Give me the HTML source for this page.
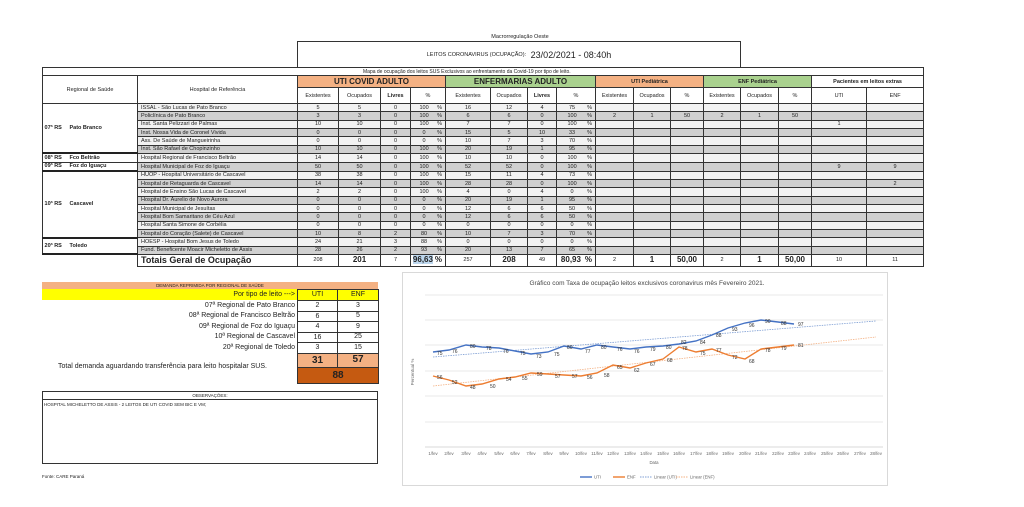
<!DOCTYPE html>
<html><head><meta charset="utf-8">
<style>
body{margin:0;width:1024px;height:507px;background:#fff;position:relative;overflow:hidden;font-family:"Liberation Sans",sans-serif;color:#222}
.a{position:absolute}
table{border-collapse:collapse;table-layout:fixed;position:absolute}
td{border:1px solid #333;padding:0;font-size:5.5px;line-height:6px;text-align:center;overflow:hidden;white-space:nowrap}
.m td{height:7.33px}
.L{background:#f2f2f2}.G{background:#d0d0d0}
.h{text-align:left;padding-left:3px}
.reg{background:#fff;text-align:left;font-weight:bold}
.or{background:#f4b183}.gr{background:#a9d18e}
.p span{float:right;margin-right:3px}
.sub td{height:15px}
</style></head><body>
<div class="a" style="left:0;width:1040px;top:34px;text-align:center;font-size:5.5px">Macrorregulação Oeste</div>
<div class="a" style="left:297px;top:41px;width:442px;height:25px;border:1px solid #333;border-bottom:none"></div>
<div class="a" style="left:297px;width:444px;top:50px;text-align:center;font-size:5.5px"><span style="vertical-align:middle">LEITOS CORONAVIRUS (OCUPAÇÃO):</span> &nbsp; <span style="font-size:9px;vertical-align:middle">23/02/2021 - 08:40h</span></div>

<table style="left:42px;top:67px;width:881px">
<colgroup><col style="width:95px"><col style="width:160px"><col style="width:41px"><col style="width:42px"><col style="width:30px"><col style="width:35px"><col style="width:45px"><col style="width:37px"><col style="width:29px"><col style="width:39px"><col style="width:38px"><col style="width:37px"><col style="width:33px"><col style="width:37px"><col style="width:38px"><col style="width:33px"><col style="width:55px"><col style="width:57px"></colgroup>
<tr><td colspan="18" style="height:7px;text-align:left;padding-left:320px;font-size:5px;border-bottom:1px solid #333">Mapa de ocupação dos leitos SUS Exclusivos ao enfrentamento da Covid-19 por tipo de leito.</td></tr>
<tr><td rowspan="2" style="font-size:5.5px">Regional de Saúde</td><td rowspan="2" style="font-size:5.5px">Hospital de Referência</td>
<td colspan="4" class="or" style="height:11px;font-size:8px;font-weight:bold">UTI COVID ADULTO</td>
<td colspan="4" class="gr" style="font-size:8px;font-weight:bold">ENFERMARIAS ADULTO</td>
<td colspan="3" class="or" style="font-weight:bold">UTI Pediátrica</td>
<td colspan="3" class="gr" style="font-weight:bold">ENF Pediátrica</td>
<td colspan="2" style="font-weight:bold">Pacientes em leitos extras</td></tr>
<tr class="sub"><td>Existentes</td><td>Ocupados</td><td><b>Livres</b></td><td>%</td><td>Existentes</td><td>Ocupados</td><td><b>Livres</b></td><td>%</td><td>Existentes</td><td>Ocupados</td><td>%</td><td>Existentes</td><td>Ocupados</td><td>%</td><td>UTI</td><td>ENF</td></tr>

<tr class="m L"><td rowspan="6" class="reg" style="border-bottom:2px solid #222">&nbsp;07ª RS &nbsp;&nbsp;&nbsp; Pato Branco</td><td class="h">ISSAL - São Lucas de Pato Branco</td><td>5</td><td>5</td><td>0</td><td class="p">100<span>%</span></td><td>16</td><td>12</td><td>4</td><td class="p">75<span>%</span></td><td></td><td></td><td></td><td></td><td></td><td></td><td></td><td></td></tr>
<tr class="m G"><td class="h">Policlínica de Pato Branco</td><td>3</td><td>3</td><td>0</td><td class="p">100<span>%</span></td><td>6</td><td>6</td><td>0</td><td class="p">100<span>%</span></td><td>2</td><td>1</td><td>50</td><td>2</td><td>1</td><td>50</td><td></td><td></td></tr>
<tr class="m L"><td class="h">Inst. Santa Pelizzari de Palmas</td><td>10</td><td>10</td><td>0</td><td class="p">100<span>%</span></td><td>7</td><td>7</td><td>0</td><td class="p">100<span>%</span></td><td></td><td></td><td></td><td></td><td></td><td></td><td>1</td><td></td></tr>
<tr class="m G"><td class="h">Inst. Nossa Vida de Coronel Vivida</td><td>0</td><td>0</td><td>0</td><td class="p">0<span>%</span></td><td>15</td><td>5</td><td>10</td><td class="p">33<span>%</span></td><td></td><td></td><td></td><td></td><td></td><td></td><td></td><td></td></tr>
<tr class="m L"><td class="h">Ass. De Saúde de Mangueirinha</td><td>0</td><td>0</td><td>0</td><td class="p">0<span>%</span></td><td>10</td><td>7</td><td>3</td><td class="p">70<span>%</span></td><td></td><td></td><td></td><td></td><td></td><td></td><td></td><td></td></tr>
<tr class="m G"><td class="h">Inst. São Rafael de Chopinzinho</td><td>10</td><td>10</td><td>0</td><td class="p">100<span>%</span></td><td>20</td><td>19</td><td>1</td><td class="p">95<span>%</span></td><td></td><td></td><td></td><td></td><td></td><td></td><td></td><td></td></tr>
<tr class="m L"><td class="reg">&nbsp;08ª RS &nbsp;&nbsp;&nbsp; Fco Beltrão</td><td class="h">Hospital Regional de Francisco Beltrão</td><td>14</td><td>14</td><td>0</td><td class="p">100<span>%</span></td><td>10</td><td>10</td><td>0</td><td class="p">100<span>%</span></td><td></td><td></td><td></td><td></td><td></td><td></td><td></td><td></td></tr>
<tr class="m G"><td class="reg" style="border-bottom:2px solid #222">&nbsp;09ª RS &nbsp;&nbsp;&nbsp; Foz do Iguaçu</td><td class="h">Hospital Municipal de Foz do Iguaçu</td><td>50</td><td>50</td><td>0</td><td class="p">100<span>%</span></td><td>52</td><td>52</td><td>0</td><td class="p">100<span>%</span></td><td></td><td></td><td></td><td></td><td></td><td></td><td>9</td><td>9</td></tr>
<tr class="m L"><td rowspan="8" class="reg" style="border-bottom:2px solid #222">&nbsp;10ª RS &nbsp;&nbsp;&nbsp; Cascavel</td><td class="h">HUOP - Hospital Universitário de Cascavel</td><td>38</td><td>38</td><td>0</td><td class="p">100<span>%</span></td><td>15</td><td>11</td><td>4</td><td class="p">73<span>%</span></td><td></td><td></td><td></td><td></td><td></td><td></td><td></td><td></td></tr>
<tr class="m G"><td class="h">Hospital de Retaguarda de Cascavel</td><td>14</td><td>14</td><td>0</td><td class="p">100<span>%</span></td><td>28</td><td>28</td><td>0</td><td class="p">100<span>%</span></td><td></td><td></td><td></td><td></td><td></td><td></td><td></td><td>2</td></tr>
<tr class="m L"><td class="h">Hospital de Ensino São Lucas de Cascavel</td><td>2</td><td>2</td><td>0</td><td class="p">100<span>%</span></td><td>4</td><td>0</td><td>4</td><td class="p">0<span>%</span></td><td></td><td></td><td></td><td></td><td></td><td></td><td></td><td></td></tr>
<tr class="m G"><td class="h">Hospital Dr. Aurelio de Novo Aurora</td><td>0</td><td>0</td><td>0</td><td class="p">0<span>%</span></td><td>20</td><td>19</td><td>1</td><td class="p">95<span>%</span></td><td></td><td></td><td></td><td></td><td></td><td></td><td></td><td></td></tr>
<tr class="m L"><td class="h">Hospital Municipal de Jesuítas</td><td>0</td><td>0</td><td>0</td><td class="p">0<span>%</span></td><td>12</td><td>6</td><td>6</td><td class="p">50<span>%</span></td><td></td><td></td><td></td><td></td><td></td><td></td><td></td><td></td></tr>
<tr class="m G"><td class="h">Hospital Bom Samaritano de Céu Azul</td><td>0</td><td>0</td><td>0</td><td class="p">0<span>%</span></td><td>12</td><td>6</td><td>6</td><td class="p">50<span>%</span></td><td></td><td></td><td></td><td></td><td></td><td></td><td></td><td></td></tr>
<tr class="m L"><td class="h">Hospital Santa Simone de Corbélia</td><td>0</td><td>0</td><td>0</td><td class="p">0<span>%</span></td><td>0</td><td>0</td><td>0</td><td class="p">0<span>%</span></td><td></td><td></td><td></td><td></td><td></td><td></td><td></td><td></td></tr>
<tr class="m G"><td class="h">Hospital do Coração (Salete) de Cascavel</td><td>10</td><td>8</td><td>2</td><td class="p">80<span>%</span></td><td>10</td><td>7</td><td>3</td><td class="p">70<span>%</span></td><td></td><td></td><td></td><td></td><td></td><td></td><td></td><td></td></tr>
<tr class="m L"><td rowspan="2" class="reg" style="border-bottom:2px solid #222">&nbsp;20ª RS &nbsp;&nbsp;&nbsp; Toledo</td><td class="h">HOESP - Hospital Bom Jesus de Toledo</td><td>24</td><td>21</td><td>3</td><td class="p">88<span>%</span></td><td>0</td><td>0</td><td>0</td><td class="p">0<span>%</span></td><td></td><td></td><td></td><td></td><td></td><td></td><td></td><td></td></tr>
<tr class="m G"><td class="h">Fund. Beneficente Moacir Micheletto de Assis</td><td>28</td><td>26</td><td>2</td><td class="p">93<span>%</span></td><td>20</td><td>13</td><td>7</td><td class="p">65<span>%</span></td><td></td><td></td><td></td><td></td><td></td><td></td><td></td><td></td></tr>
<tr style="height:12px"><td style="border:none;border-top:2px solid #222"></td><td class="h" style="font-size:9px;font-weight:bold;line-height:11px">Totais Geral de Ocupação</td><td>208</td><td style="font-size:8px;font-weight:bold">201</td><td>7</td><td class="p" style="font-size:8px;font-weight:bold"><span style="float:none;background:#bdd7ee;margin:0">96,63</span><span>%</span></td><td>257</td><td style="font-size:8px;font-weight:bold">208</td><td>49</td><td class="p" style="font-size:8px;font-weight:bold">80,93<span>%</span></td><td>2</td><td style="font-size:8px;font-weight:bold">1</td><td style="font-size:8px;font-weight:bold">50,00</td><td>2</td><td style="font-size:8px;font-weight:bold">1</td><td style="font-size:8px;font-weight:bold">50,00</td><td>10</td><td>11</td></tr>
</table>

<!-- Demand table -->
<div class="a" style="left:42px;top:282px;width:336px;height:7px;background:#f4b183;font-size:4.5px;text-align:center;line-height:7px">DEMANDA REPRIMIDA POR REGIONAL DE SAÚDE</div>
<div class="a" style="left:42px;top:289px;width:255px;height:11px;background:#ffff00;font-size:7px;text-align:right;line-height:11px;box-sizing:border-box;padding-right:2px">Por tipo de leito ---&gt;</div>
<table style="left:297px;top:289px;width:81px">
<colgroup><col style="width:40px"><col style="width:41px"></colgroup>
<tr><td style="background:#ffff00;height:10px;font-size:7px;line-height:10px">UTI</td><td style="background:#ffff00;font-size:7px">ENF</td></tr>
<tr><td style="height:9.5px;font-size:7px;line-height:9px">2</td><td style="font-size:7px">3</td></tr>
<tr><td style="height:9.5px;font-size:7px;line-height:9px">6</td><td style="font-size:7px">5</td></tr>
<tr><td style="height:9.5px;font-size:7px;line-height:9px">4</td><td style="font-size:7px">9</td></tr>
<tr><td style="height:9.5px;font-size:7px;line-height:9px">16</td><td style="font-size:7px">25</td></tr>
<tr><td style="height:9.5px;font-size:7px;line-height:9px">3</td><td style="font-size:7px">15</td></tr>
<tr><td style="height:13px;background:#f4b183;font-size:10px;font-weight:bold;line-height:13px">31</td><td style="background:#f4b183;font-size:10px;font-weight:bold">57</td></tr>
<tr><td colspan="2" style="height:15px;background:#c55a11;font-size:10px;font-weight:bold;line-height:15px;color:#222">88</td></tr>
</table>
<div class="a" style="left:100px;width:195px;top:301px;font-size:7px;line-height:10.4px;text-align:right">07ª Regional de Pato Branco<br>08ª Regional de Francisco Beltrão<br>09ª Regional de Foz do Iguaçu<br>10ª Regional de Cascavel<br>20ª Regional de Toledo</div>
<div class="a" style="left:58px;top:363px;font-size:7px">Total demanda aguardando transferência para leito hospitalar SUS.</div>

<div class="a" style="left:42px;top:391px;width:334px;height:71px;border:1px solid #333"></div>
<div class="a" style="left:42px;top:391px;width:336px;height:9px;border-bottom:1px solid #333;box-sizing:border-box;font-size:4.5px;text-align:center;line-height:9px">OBSERVAÇÕES:</div>
<div class="a" style="left:44px;top:402px;font-size:4.5px">HOSPITAL MICHELETTO DE ASSIS - 2 LEITOS DE UTI COVID SEM BIC E VM;</div>
<div class="a" style="left:42px;top:474px;font-size:4.5px">Fonte: CARE Paraná</div>

<svg class="a" style="left:0;top:0" width="1024" height="507" font-family="Liberation Sans, sans-serif">
<rect x="402.5" y="272.5" width="485" height="213" fill="#fff" stroke="#d9d9d9"/>
<text x="647" y="285" font-size="6.5" text-anchor="middle" fill="#444">Gráfico com Taxa de ocupação leitos exclusivos coronavirus mês Fevereiro 2021.</text>
<g stroke="#e0e0e0" stroke-width="0.8">
<line x1="425" x2="883" y1="295" y2="295"/><line x1="425" x2="883" y1="320" y2="320"/><line x1="425" x2="883" y1="345" y2="345"/><line x1="425" x2="883" y1="371" y2="371"/><line x1="425" x2="883" y1="396" y2="396"/><line x1="425" x2="883" y1="422" y2="422"/><line x1="425" x2="883" y1="447" y2="447" stroke="#ccc"/>
</g>
<text transform="translate(414,372) rotate(-90)" font-size="4.5" fill="#666" text-anchor="middle">Percentual %</text>
<line x1="433" y1="357" x2="876" y2="321" stroke="#7f9fd4" stroke-width="0.8" stroke-dasharray="1.5,1"/>
<line x1="433" y1="386" x2="876" y2="337" stroke="#f4b183" stroke-width="0.8" stroke-dasharray="1.5,1"/>
<polyline fill="none" stroke="#4472c4" stroke-width="1.4" points="433,352 449,350 466,345 482,347 499,348 515,351 531,354 548,352 564,346 581,349 597,345 613,347 630,349 646,347 663,346 679,344 696,341 712,335 728,328 745,323 761,320 778,322 794,324"/>
<polyline fill="none" stroke="#ed7d31" stroke-width="1.4" points="433,376 449,380 466,386 482,384 499,379 515,377 531,373 548,374 564,375 581,376 597,373 613,365 630,368 646,363 663,359 679,347 696,352 712,349 728,355 745,359 761,349 778,347 794,345"/>
<g font-size="5" fill="#333">
<text x="437" y="355">75</text><text x="452" y="353">76</text><text x="470" y="348">80</text><text x="486" y="350">78</text><text x="503" y="353">76</text><text x="520" y="355">75</text><text x="536" y="358">73</text><text x="554" y="356">75</text><text x="567" y="349">80</text><text x="585" y="353">77</text><text x="601" y="349">80</text><text x="617" y="351">76</text><text x="634" y="353">76</text><text x="650" y="351">79</text><text x="666" y="349">80</text><text x="681" y="344">82</text><text x="700" y="344">84</text><text x="716" y="337">88</text><text x="732" y="331">93</text><text x="749" y="327">96</text><text x="765" y="323">90</text><text x="781" y="325">88</text><text x="798" y="326">97</text>
<text x="437" y="379">56</text><text x="452" y="384">52</text><text x="470" y="389">48</text><text x="490" y="388">50</text><text x="506" y="381">54</text><text x="522" y="380">55</text><text x="537" y="376">59</text><text x="555" y="378">57</text><text x="572" y="378">57</text><text x="587" y="379">56</text><text x="604" y="377">58</text><text x="617" y="369">65</text><text x="634" y="372">62</text><text x="650" y="366">67</text><text x="667" y="362">68</text><text x="682" y="350">78</text><text x="700" y="355">75</text><text x="716" y="352">77</text><text x="732" y="359">72</text><text x="749" y="363">68</text><text x="765" y="352">78</text><text x="781" y="350">79</text><text x="798" y="347">81</text>
</g>
<g font-size="4.3" fill="#666" text-anchor="middle">
<text x="433" y="455">1/fev</text><text x="449" y="455">2/fev</text><text x="466" y="455">3/fev</text><text x="482" y="455">4/fev</text><text x="499" y="455">5/fev</text><text x="515" y="455">6/fev</text><text x="531" y="455">7/fev</text><text x="548" y="455">8/fev</text><text x="564" y="455">9/fev</text><text x="581" y="455">10/fev</text><text x="597" y="455">11/fev</text><text x="613" y="455">12/fev</text><text x="630" y="455">13/fev</text><text x="646" y="455">14/fev</text><text x="663" y="455">15/fev</text><text x="679" y="455">16/fev</text><text x="696" y="455">17/fev</text><text x="712" y="455">18/fev</text><text x="728" y="455">19/fev</text><text x="745" y="455">20/fev</text><text x="761" y="455">21/fev</text><text x="778" y="455">22/fev</text><text x="794" y="455">23/fev</text><text x="810" y="455">24/fev</text><text x="827" y="455">25/fev</text><text x="843" y="455">26/fev</text><text x="860" y="455">27/fev</text><text x="876" y="455">28/fev</text>
<text x="654" y="464">Data</text>
</g>
<g font-size="4.3" fill="#666">
<line x1="580" y1="477" x2="592" y2="477" stroke="#4472c4" stroke-width="1.4"/><text x="594" y="478.5">UTI</text>
<line x1="613" y1="477" x2="625" y2="477" stroke="#ed7d31" stroke-width="1.4"/><text x="627" y="478.5">ENF</text>
<line x1="640" y1="477" x2="652" y2="477" stroke="#7f9fd4" stroke-dasharray="1.5,1"/><text x="654" y="478.5">Linear (UTI)</text>
<line x1="676" y1="477" x2="688" y2="477" stroke="#f4b183" stroke-dasharray="1.5,1"/><text x="690" y="478.5">Linear (ENF)</text>
</g>
</svg>
</body></html>
